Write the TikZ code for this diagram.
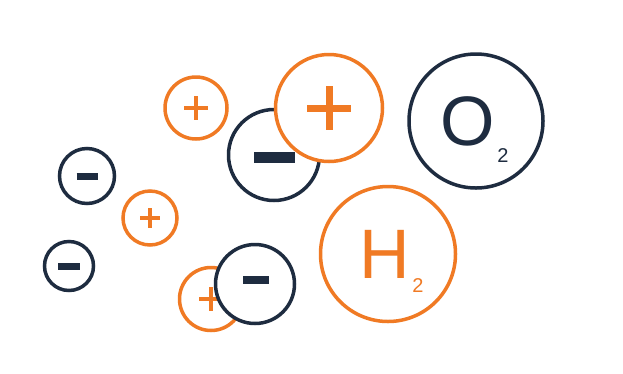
\documentclass[tikz,border=0pt]{standalone}
\usepackage{fontspec}
\setmainfont{Liberation Sans}
\usepackage{tikz}
\usetikzlibrary{positioning}
\definecolor{ionnavy}{RGB}{30,44,64}
\definecolor{ionorange}{RGB}{240,122,36}

\begin{document}
\begin{tikzpicture}[x=1pt,y=-1pt,
  ion/.style={circle,draw,fill=white,line width=3.5pt,inner sep=0pt},
  cation/.style={ion,draw=ionorange},
  anion/.style={ion,draw=ionnavy},
  plusbar/.style={ionorange,line width=#1},
  minusbar/.style={ionnavy,line width=#1,rounded corners=1.5pt}]
  \useasboundingbox (0,0) rectangle (623,373);
  \fill[white] (0,0) rectangle (623,373);

  % Small ions on the left
  \node[anion,minimum size=55pt] (m2) at (87,176) {};
  \node[anion,minimum size=49pt] (m3) at (69,266) {};
  \node[cation,minimum size=54pt] (p3) at (150,218) {};
  \node[cation,minimum size=62pt] (p1) at (196,108) {};
  \foreach \n/\h in {m2/10.5, m3/11}
    \draw[ionnavy,line width=7pt] (\n.center) ++(-\h,0) -- ++(2*\h,0);
  \foreach \n/\h in {p3/10, p1/12}
    \draw[plusbar=3.2pt] (\n.center) ++(-\h,0) -- ++(2*\h,0)
      (\n.center) ++(0,-\h) -- ++(0,2*\h);

  % Pair at the top: minus behind big plus
  \node[anion,minimum size=91pt] (m1) at (274,155) {};
  \draw[ionnavy,line width=11pt] (m1.center) ++(-20,2) -- ++(41,0);
  \node[cation,minimum size=107pt] (p2) at (329,108) {};
  \draw[plusbar=7pt] (p2.center) ++(-22,0) -- ++(44,0)
    (p2.center) ++(0,-22) -- ++(0,44);

  % Pair at the bottom: plus behind minus
  \node[cation,minimum size=63pt] (p4) at (211,299) {};
  \draw[plusbar=3.2pt] (p4.center) ++(-12,0) -- ++(24,0)
    (p4.center) ++(0,-12) -- ++(0,24);
  \node[anion,minimum size=79pt] (m4) at (255,284) {};
  \draw[ionnavy,line width=8pt] (m4.center) ++(-12,-4) -- ++(26,0);

  % Molecules
  \node[anion,minimum size=134pt] (o2) at (476,121) {};
  \node[anchor=base,text=ionnavy,inner sep=0pt,font=\fontsize{70}{70}\selectfont]
    (o2sym) at (468,145) {O};
  \node[anchor=base,text=ionnavy,inner sep=0pt,font=\fontsize{20}{20}\selectfont]
    (o2sub) at (503,162) {2};
  \node[cation,minimum size=135pt] (h2) at (388,254) {};
  \node[anchor=base,text=ionorange,inner sep=0pt,font=\fontsize{70}{70}\selectfont]
    (h2sym) at (385,278) {H};
  \node[anchor=base,text=ionorange,inner sep=0pt,font=\fontsize{20}{20}\selectfont]
    (h2sub) at (418,292) {2};
\end{tikzpicture}
\end{document}
